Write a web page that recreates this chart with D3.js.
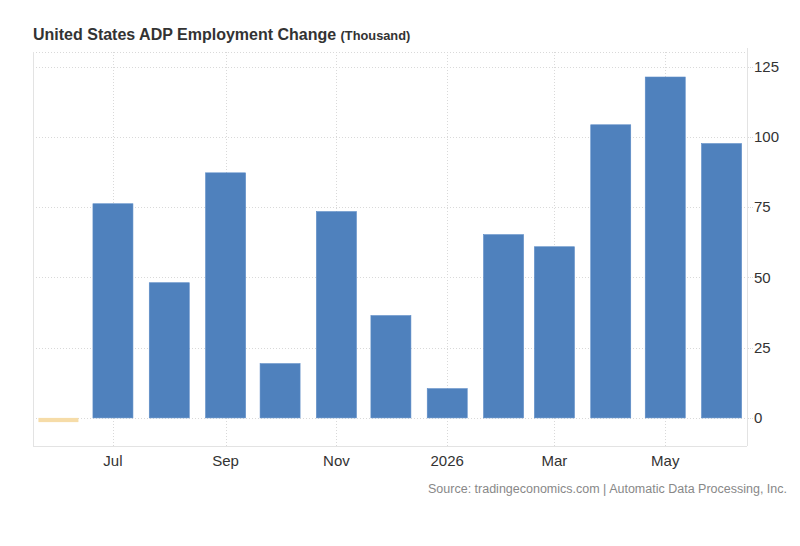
<!DOCTYPE html>
<html>
<head>
<meta charset="utf-8">
<script src="https://cdn.jsdelivr.net/npm/d3@7"></script>
<style>
  body { margin: 0; background: #fff; }
  svg { display: block; font-family: Arial, "Liberation Sans", sans-serif; }
</style>
</head>
<body>
<div id="chart"></div>
<script>
// monthly ADP change, thousands
const months = ['2025-06', '2025-07', '2025-08', '2025-09', '2025-10', '2025-11', '2025-12',
  '2026-01', '2026-02', '2026-03', '2026-04', '2026-05', '2026-06'];
const values = [-1.5, 76.2, 48.1, 87.2, 19.3, 73.4, 36.4, 10.4, 65.2, 60.9, 104.3, 121.3, 97.6];
const yTicks = [0, 25, 50, 75, 100, 125];
const xTickDates = ['2025-07', '2025-09', '2025-11', '2026-01', '2026-03', '2026-05'];
const xTickLabels = ['Jul', 'Sep', 'Nov', '2026', 'Mar', 'May'];

const width = 800, height = 546;
const margin = { top: 52, right: 53, bottom: 100, left: 33 };
const parse = d3.timeParse('%Y-%m');

const svg = d3.select('#chart').append('svg')
  .attr('width', width)
  .attr('height', height);

let x = d3.scaleTime()
  .domain([new Date(2025, 4, 18), new Date(2026, 5, 15)])
  .range([margin.left, width - margin.right]);

let y = d3.scaleLinear()
  .domain([-10, 130.2])
  .range([height - margin.bottom, margin.top]);

const plotTop = margin.top, plotBottom = height - margin.bottom;
const plotLeft = margin.left, plotRight = width - margin.right;

// gridlines
svg.append('g')
  .selectAll('line')
  .data(yTicks.concat([130.2]))
  .enter().append('line')
  .attr('x1', plotLeft).attr('x2', plotRight)
  .attr('y1', d => Math.round(y(d)) + 0.5).attr('y2', d => Math.round(y(d)) + 0.5)
  .attr('stroke', '#d9d9d9')
  .attr('stroke-dasharray', '1,2');

svg.append('g')
  .selectAll('line')
  .data(xTickDates)
  .enter().append('line')
  .attr('x1', d => Math.round(x(parse(d))) + 0.5).attr('x2', d => Math.round(x(parse(d))) + 0.5)
  .attr('y1', plotTop).attr('y2', plotBottom)
  .attr('stroke', '#d9d9d9')
  .attr('stroke-dasharray', '1,2');

// frame
svg.append('line')
  .attr('x1', plotLeft + 0.5).attr('x2', plotLeft + 0.5)
  .attr('y1', plotTop).attr('y2', plotBottom)
  .attr('stroke', '#e3e3e3');
svg.append('line')
  .attr('x1', plotLeft).attr('x2', plotRight)
  .attr('y1', plotBottom + 0.5).attr('y2', plotBottom + 0.5)
  .attr('stroke', '#e3e3e3');
svg.append('line')
  .attr('x1', plotRight + 0.5).attr('x2', plotRight + 0.5)
  .attr('y1', plotTop - 4).attr('y2', plotBottom)
  .attr('stroke', '#e3e3e3');

// bars
const barW = 40;
svg.append('g')
  .selectAll('rect')
  .data(months.map((m, i) => ({ date: parse(m), value: values[i] })))
  .enter().append('rect')
  .attr('x', d => x(d.date) - barW / 2)
  .attr('width', barW)
  .attr('y', d => y(Math.max(0, d.value)))
  .attr('height', d => Math.abs(y(d.value) - y(0)))
  .attr('fill', d => d.value < 0 ? '#f6dca8' : '#4f81bd')
  .attr('stroke', d => d.value < 0 ? 'none' : '#5a8ac6')
  .attr('stroke-width', 0.6);

// y axis, right side
const yAxis = svg.append('g')
  .attr('transform', `translate(${plotRight},0)`);
yAxis.selectAll('line')
  .data(yTicks)
  .enter().append('line')
  .attr('x1', 1).attr('x2', 6)
  .attr('y1', d => Math.round(y(d)) + 0.5).attr('y2', d => Math.round(y(d)) + 0.5)
  .attr('stroke', '#d9d9d9')
  .attr('stroke-dasharray', '1,1');
yAxis.selectAll('text')
  .data(yTicks)
  .enter().append('text')
  .attr('x', 7)
  .attr('y', d => y(d))
  .attr('dy', '0.35em')
  .attr('font-size', 15)
  .attr('fill', '#333')
  .text(d => d);

// x axis labels
svg.append('g')
  .selectAll('text')
  .data(xTickDates)
  .enter().append('text')
  .attr('x', d => x(parse(d)))
  .attr('y', 466)
  .attr('text-anchor', 'middle')
  .attr('font-size', 15)
  .attr('fill', '#333')
  .text((d, i) => xTickLabels[i]);

// title
const title = svg.append('text')
  .attr('x', 33)
  .attr('y', 40)
  .attr('font-weight', 'bold')
  .attr('fill', '#333');
title.append('tspan').attr('font-size', 16).text('United States ADP Employment Change ');
title.append('tspan').attr('font-size', 12.8).text('(Thousand)');

// source
svg.append('text')
  .attr('x', 787)
  .attr('y', 493)
  .attr('text-anchor', 'end')
  .attr('font-size', 12.5)
  .attr('fill', '#888')
  .text('Source: tradingeconomics.com | Automatic Data Processing, Inc.');
</script>
</body>
</html>
